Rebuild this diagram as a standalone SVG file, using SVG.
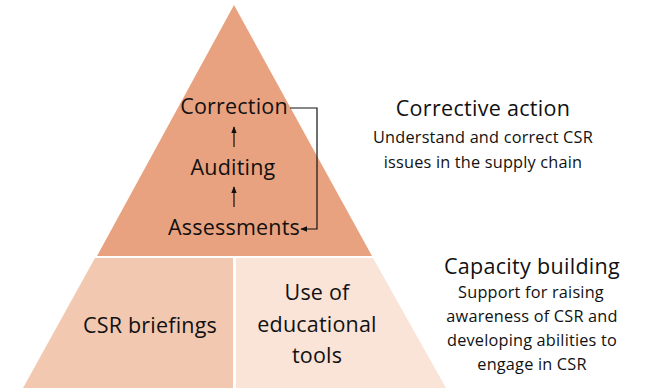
<svg xmlns="http://www.w3.org/2000/svg" width="646" height="388" viewBox="0 0 646 388">
<style>
text{font-family:"Open Sans","Noto Sans","Liberation Sans",sans-serif;fill:#111;text-anchor:middle}
.n{font-size:21.5px;letter-spacing:0.2px}
.h{font-size:21.5px;letter-spacing:0.3px}
.b{font-size:16.3px;letter-spacing:0.2px}
.c{stroke:#111;stroke-width:1.2;fill:none}
</style>
<defs>
<marker id="ah" viewBox="0 0 10 10" refX="9" refY="5" markerWidth="7" markerHeight="7" markerUnits="userSpaceOnUse" orient="auto">
<path d="M0,1 L10,5 L0,9 Z" fill="#111"/>
</marker>
</defs>
<g id="top">
<polygon points="234,5 97,256 372,256" fill="#E9A27F"/>
</g>
<g id="csr-briefings">
<polygon points="95,258 233,258 233,388 23,388" fill="#F3C8B1"/>
<text class="n" x="150" y="333">CSR briefings</text>
</g>
<g id="educational-tools">
<polygon points="236,258 373,258 446,388 236,388" fill="#FAE3D7"/>
<text class="n" x="317" y="300">Use of</text>
<text class="n" x="317" y="332">educational</text>
<text class="n" x="317" y="363">tools</text>
</g>
<g id="correction"><text class="n" x="234" y="114">Correction</text></g>
<g id="auditing"><text class="n" x="233" y="175">Auditing</text></g>
<g id="assessments"><text class="n" x="234" y="235">Assessments</text></g>
<g id="connectors">
<line class="c" x1="234" y1="147" x2="234" y2="127" marker-end="url(#ah)"/>
<line class="c" x1="234" y1="207" x2="234" y2="187" marker-end="url(#ah)"/>
<polyline class="c" points="290,108 317,108 317,229 301,229" marker-end="url(#ah)"/>
</g>
<g id="corrective-action">
<text class="h" x="483" y="116">Corrective action</text>
<text class="b" x="483" y="143">Understand and correct CSR</text>
<text class="b" x="483" y="168">issues in the supply chain</text>
</g>
<g id="capacity-building">
<text class="h" x="532" y="274">Capacity building</text>
<text class="b" x="531" y="298">Support for raising</text>
<text class="b" x="532" y="322">awareness of CSR and</text>
<text class="b" x="532" y="346">developing abilities to</text>
<text class="b" x="532" y="370">engage in CSR</text>
</g>
</svg>
